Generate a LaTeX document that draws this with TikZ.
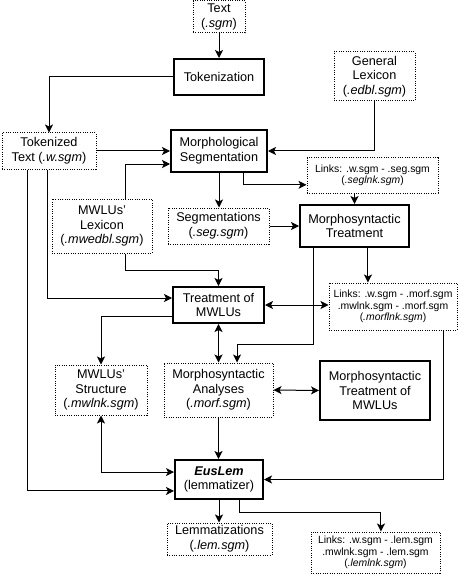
\documentclass[tikz,border=0pt]{standalone}
\usepackage{fontspec}
\setmainfont{Liberation Sans}
\usetikzlibrary{arrows.meta,positioning,calc}

\begin{document}
\begin{tikzpicture}[x=0.75pt, y=-0.75pt,
  proc/.style={draw, line width=1.5pt, inner sep=0pt, align=center,
               font=\fontsize{9.5}{11}\selectfont},
  data/.style={draw, densely dotted, line width=0.75pt, inner sep=0pt, align=center,
               font=\fontsize{9.5}{11}\selectfont},
  lnk/.style={data, font=\fontsize{7.8}{8.7}\selectfont},
  arr/.style={-{Stealth[length=6pt, width=6pt, inset=1.5pt]}, line width=0.75pt},
  darr/.style={{Stealth[length=6pt, width=6pt, inset=1.5pt]}-{Stealth[length=6pt, width=6pt, inset=1.5pt]}, line width=0.75pt}
]
\useasboundingbox (0,0) rectangle (458,574);
\node[data, minimum width=39pt, minimum height=24pt] (txt) at (219,17)
  {Text\\(\textit{.sgm})};
\node[proc, minimum width=67.5pt, minimum height=27pt] (tok) at (219,77)
  {Tokenization};
\node[data, minimum width=60.75pt, minimum height=36.75pt] (genlex) at (374.5,76.5)
  {General\\Lexicon\\(\textit{.edbl.sgm})};
\node[data, minimum width=70.5pt, minimum height=27pt] (toktxt) at (49,151)
  {Tokenized\\Text (\textit{.w.sgm})};
\node[proc, minimum width=72pt, minimum height=31.5pt] (morphseg) at (219,151)
  {Morphological\\Segmentation};
\node[lnk, minimum width=98.25pt, minimum height=26.25pt] (seglnk) at (372.5,175.5)
  {Links: .w.sgm - .seg.sgm\\(\textit{.seglnk.sgm})};
\node[data, minimum width=75pt, minimum height=40.5pt] (mwlex) at (102,226)
  {MWLUs'\\Lexicon\\(\textit{.mwedbl.sgm})};
\node[data, minimum width=75.75pt, minimum height=27pt] (segs) at (218.5,226)
  {Segmentations\\(\textit{.seg.sgm})};
\node[proc, minimum width=81.75pt, minimum height=31.5pt] (mstreat) at (354.5,226)
  {Morphosyntactic\\Treatment};
\node[proc, minimum width=68.25pt, minimum height=27pt] (treat) at (218.5,305)
  {Treatment of\\MWLUs};
\node[lnk, minimum width=96pt, minimum height=35.25pt] (morflnk) at (393,306.5)
  {Links: .w.sgm - .morf.sgm\\.mwlnk.sgm - .morf.sgm\\(\textit{.morflnk.sgm})};
\node[data, minimum width=69pt, minimum height=37.5pt] (mwstruct) at (101,390)
  {MWLUs'\\Structure\\(\textit{.mwlnk.sgm})};
\node[data, minimum width=81.75pt, minimum height=40.5pt] (manal) at (218.5,390)
  {Morphosyntactic\\Analyses\\(\textit{.morf.sgm})};
\node[proc, minimum width=82.5pt, minimum height=44.25pt] (mstmw) at (375,390.5)
  {Morphosyntactic\\Treatment of\\MWLUs};
\node[proc, minimum width=66pt, minimum height=29.25pt] (euslem) at (219,479.5)
  {\textbf{\textit{EusLem}}\\(lemmatizer)};
\node[data, minimum width=78.75pt, minimum height=24pt] (lemz) at (219.5,539)
  {Lemmatizations\\(\textit{.lem.sgm})};
\node[lnk, minimum width=96.75pt, minimum height=30.75pt] (lemlnk) at (375.5,552.5)
  {Links: .w.sgm - .lem.sgm\\.mwlnk.sgm - .lem.sgm\\(\textit{.lemlnk.sgm})};
\draw[arr] (txt) -- (tok);
\draw[arr] (tok.west) -| (toktxt.north);
\draw[arr] (genlex.south) |- (morphseg.east);
\draw[arr] (toktxt.east) -- (morphseg.west);
\draw[arr] ([xshift=17.25pt]mwlex.north) |- ([yshift=-9.75pt]morphseg.west);
\draw[arr] (morphseg.south) -- (morphseg.south |- segs.north);
\draw[arr] ([xshift=18pt]morphseg.south) |- ([yshift=-7pt]seglnk.west);
\draw[arr] (seglnk.south -| mstreat.north) -- (mstreat.north);
\draw[arr] (segs.east) -- (mstreat.west);
\draw[arr] ([xshift=-31.1pt]mstreat.south) -- ++(0,96) -| ([xshift=13.9pt]manal.north);
\draw[arr] ([xshift=10.1pt]mstreat.south) -- ([xshift=10.1pt]mstreat.south |- morflnk.north);
\draw[arr] ([xshift=17.25pt]mwlex.south) -- ++(0,17) -| (treat.north);
\draw[arr] ([xshift=-1.5pt]toktxt.south) |- ([yshift=5.25pt]treat.west);
\draw[arr] ([xshift=-16.5pt]toktxt.south) |- ([yshift=-8.6pt]euslem.west);
\draw[darr] (treat.east) -- (treat.east -| morflnk.west);
\draw[arr] ([yshift=-8.25pt]treat.west) -| (mwstruct.north);
\draw[darr] (treat.south) -- (treat.south |- manal.north);
\draw[darr] (manal.east) -- (mstmw.west);
\draw[arr] ([xshift=37.5pt]morflnk.south) |- (euslem.east);
\draw[arr] (manal.south) -- (manal.south |- euslem.north);
\draw[darr] (mwstruct.south) |- ([yshift=5.6pt]euslem.west);
\draw[arr] (euslem.south) -- (euslem.south |- lemz.north);
\draw[arr] ([xshift=15pt]euslem.south) -- ++(0,12) -| ([xshift=4.1pt]lemlnk.north);
\end{tikzpicture}
\end{document}
